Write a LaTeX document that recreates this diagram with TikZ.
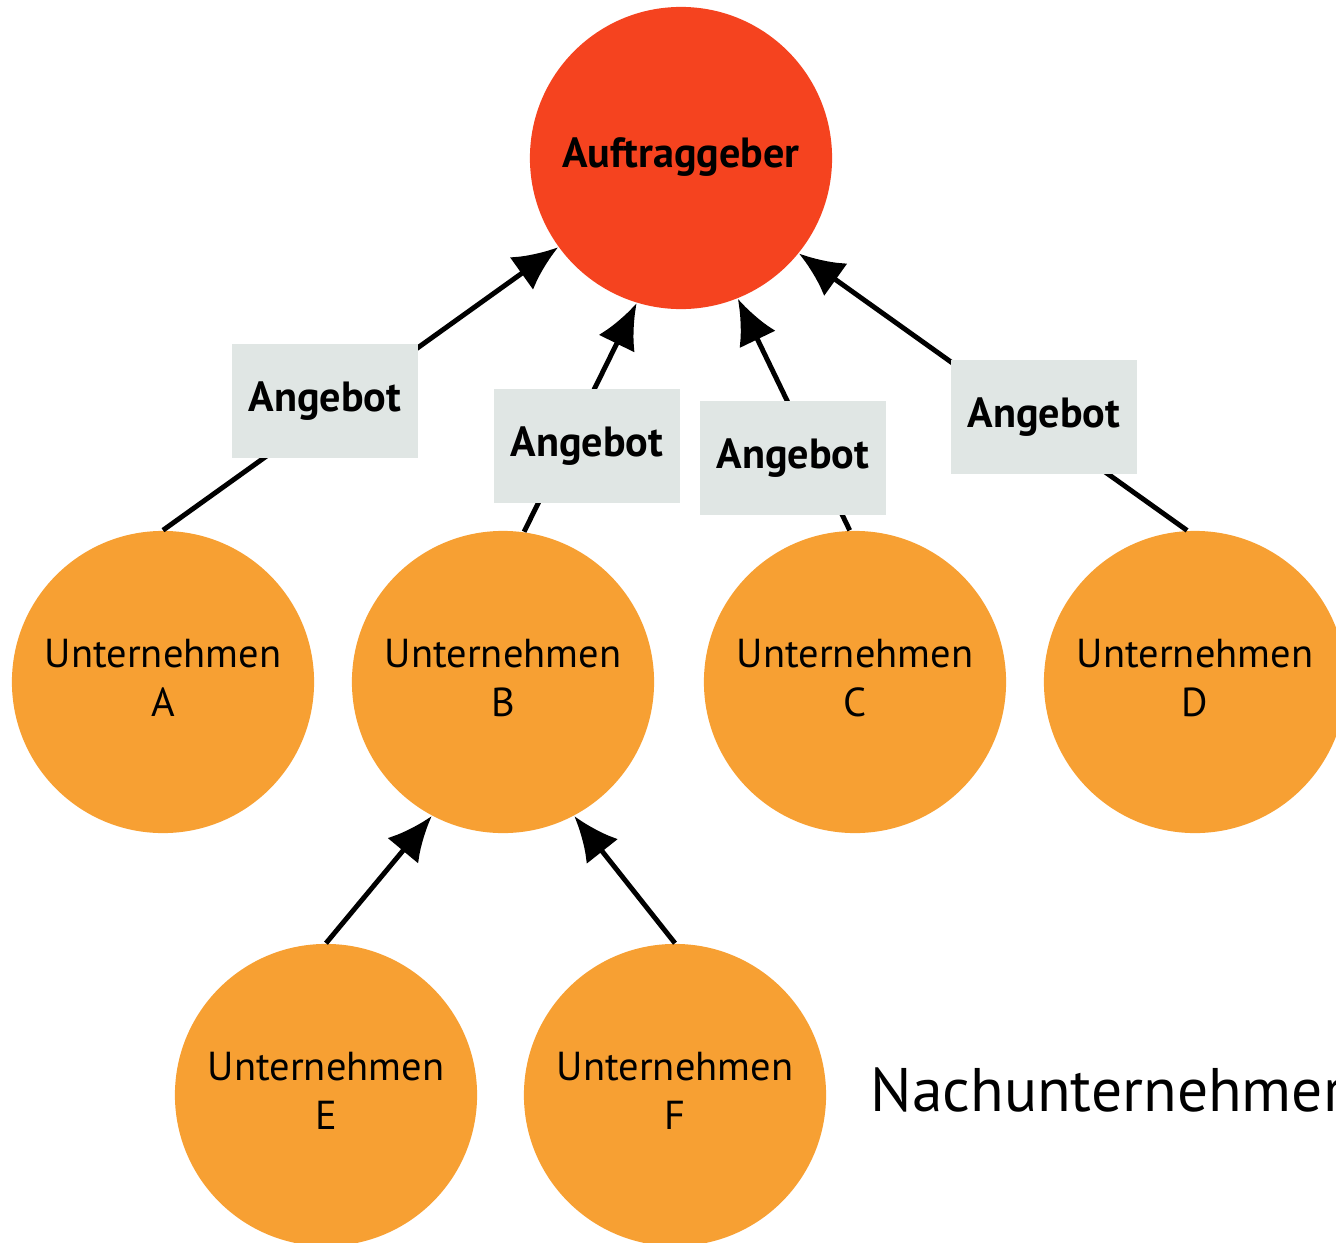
\documentclass[tikz,border=0pt]{standalone}
\usepackage{fontspec}
\setmainfont{PT Sans}
\usepackage{tikz}
\usetikzlibrary{arrows.meta,positioning}

\definecolor{rot}{HTML}{F5431F}
\definecolor{orange}{HTML}{F7A033}
\definecolor{grau}{HTML}{E0E6E4}

\begin{document}
\begin{tikzpicture}[x=0.01cm, y=-0.01cm,
		firma/.style={circle, fill=orange, minimum size=3.02cm, inner sep=0pt, align=center,
			font=\fontsize{11.5}{14}\selectfont},
		chef/.style={circle, fill=rot, minimum size=3.02cm, inner sep=0pt,
			font=\fontsize{12}{14}\selectfont\bfseries},
		angebot/.style={fill=grau, minimum width=1.86cm, minimum height=1.14cm, inner sep=0pt,
			font=\fontsize{12}{14}\selectfont\bfseries},
		pfeil/.style={line width=1.4pt, -{Latex[length=0.45cm, width=0.4cm]}}]
			\useasboundingbox (0,0) rectangle (1336,1242);

			\node[chef] (auftrag) at (681,158) {\raisebox{3pt}{Auftraggeber}};

			\foreach \n/\x/\y in {A/163/682, B/503/682, C/855/682, D/1195/682, E/326/1095, F/675/1095}
				\node[firma] (\n) at (\x,\y) {\raisebox{3pt}{\begin{tabular}{@{}c@{}}Unternehmen\\\n\end{tabular}}};

			\draw[pfeil] (A.north) -- (auftrag.216);
			\draw[pfeil] (B.82) -- (auftrag.253);
			\draw[pfeil] (C.92) -- (auftrag.292);
			\draw[pfeil] (D.93) -- (auftrag.321);
			\draw[pfeil] (E.north) -- (B.242);
			\draw[pfeil] (F.north) -- (B.298);

			\node[angebot] (angA) at (325,401) {Angebot};
			\node[angebot] (angB) at (587,446) {Angebot};
			\node[angebot] (angC) at (793,458) {Angebot};
			\node[angebot] (angD) at (1044,417) {Angebot};

			\node[anchor=west, inner sep=0pt, font=\fontsize{17.5}{20}\selectfont] (nach) at (870,1090) {Nachunternehmer};

		    \end{tikzpicture}
\end{document}
